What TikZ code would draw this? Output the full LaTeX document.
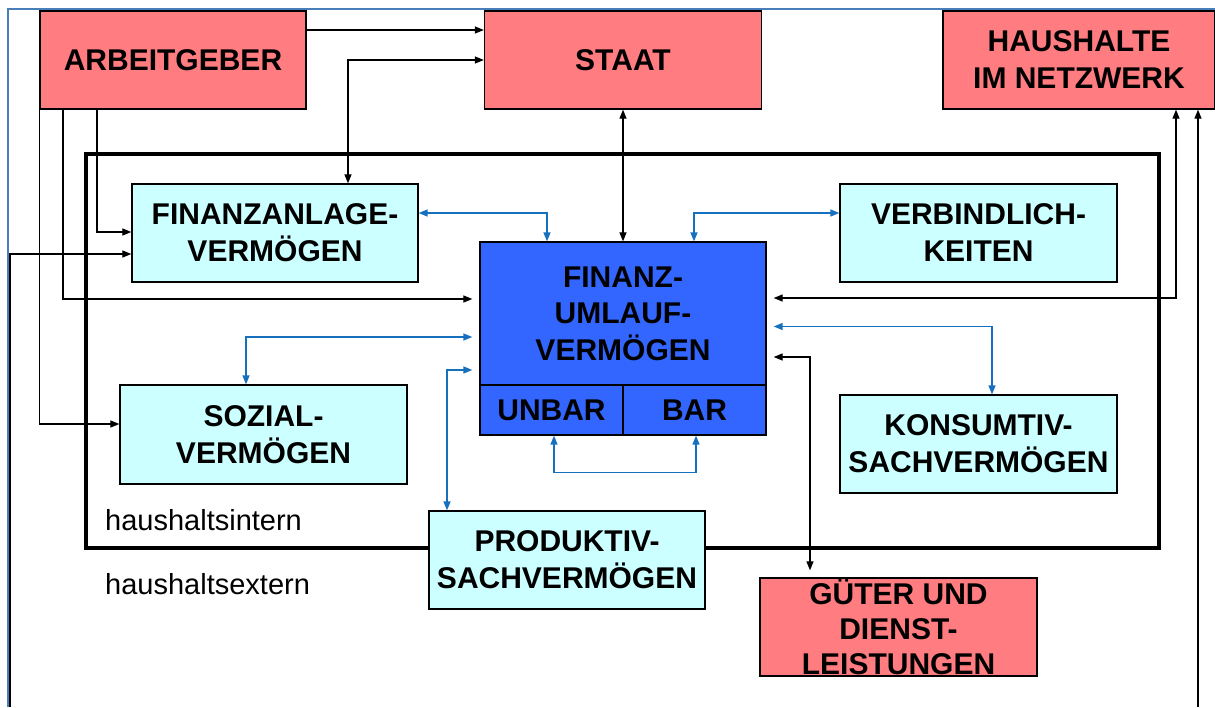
\documentclass[tikz,border=0pt]{standalone}
\usepackage{fontspec}
\setmainfont{Liberation Sans}
\usetikzlibrary{arrows.meta}
\definecolor{boxred}{RGB}{255,124,128}
\definecolor{boxcyan}{RGB}{204,255,255}
\definecolor{boxblue}{RGB}{51,102,255}
\definecolor{linkblue}{RGB}{23,112,190}
\definecolor{framebl}{RGB}{74,126,187}
\begin{document}
\begin{tikzpicture}[x=1pt,y=-1pt,
  >={Triangle[length=9pt,width=7pt]},
  box/.style={draw=black, line width=1.3pt, inner sep=0pt, align=center,
    font=\bfseries\fontsize{30}{37}\selectfont},
  redbox/.style={box, fill=boxred},
  cyanbox/.style={box, fill=boxcyan},
  bluebox/.style={box, fill=boxblue},
  frame/.style={draw=black, line width=4.5pt, inner sep=0pt},
  bk/.style={draw=black, line width=1.2pt},
  bl/.style={draw=linkblue, line width=1.5pt},
  plain/.style={inner sep=0pt, anchor=base west, font=\fontsize{29}{35}\selectfont}
]
\useasboundingbox (0,0) rectangle (1215,707);
% outer blue frame
\draw[framebl, line width=1.8pt] (8,707) -- (8,9) -- (1215,9);
% inner frame
\node[frame, minimum width=1073pt, minimum height=394pt] (intern) at (622.5,351) {};

% external boxes
\node[redbox, minimum width=266pt, minimum height=98pt] (ag) at (173,60) {ARBEITGEBER};
\node[redbox, minimum width=277pt, minimum height=98pt] (staat) at (623,60) {STAAT};
\node[redbox, minimum width=272pt, minimum height=98pt] (hh) at (1079,60) {HAUSHALTE\\IM NETZWERK};
\node[redbox, minimum width=277pt, minimum height=98pt, font=\bfseries\fontsize{30}{35}\selectfont] (gu) at (898.5,627) {GÜTER UND\\DIENST-\\LEISTUNGEN};

% internal boxes
\node[cyanbox, minimum width=286pt, minimum height=98pt] (fa) at (275,233) {FINANZANLAGE-\\VERMÖGEN};
\node[cyanbox, minimum width=277pt, minimum height=98pt] (vb) at (978.5,233) {VERBINDLICH-\\KEITEN};
\node[cyanbox, minimum width=287pt, minimum height=99pt] (soz) at (263.5,434.5) {SOZIAL-\\VERMÖGEN};
\node[cyanbox, minimum width=277pt, minimum height=98pt] (ks) at (978.5,444) {KONSUMTIV-\\SACHVERMÖGEN};
\node[cyanbox, minimum width=276pt, minimum height=98pt] (pr) at (567,560) {PRODUKTIV-\\SACHVERMÖGEN};

\node[bluebox, minimum width=286pt, minimum height=143pt, font=\bfseries\fontsize{30}{36.5}\selectfont] (fuv) at (623,313.5) {FINANZ-\\UMLAUF-\\VERMÖGEN};
\node[bluebox, minimum width=143pt, minimum height=50pt] (unbar) at (551.5,410) {UNBAR};
\node[bluebox, minimum width=143pt, minimum height=50pt] (bar) at (694.5,410) {BAR};

% labels
\node[plain] (hi) at (105,530) {haushaltsintern};
\node[plain] (he) at (105,594) {haushaltsextern};

% free ends
\coordinate (lb) at (10,707);
\coordinate (rb) at (1198,707);

% black connectors
\draw[bk,->] ([yshift=30pt]ag.east) -- ([yshift=30pt]staat.west);
\draw[bk,<->] (staat.west) -| ([xshift=73pt]fa.north);
\draw[bk,->] ([xshift=-76pt]ag.south) |- ([yshift=1pt]fa.west);
\draw[bk,->,shorten >=7pt] ([xshift=-110pt]ag.south) |- ([yshift=14.5pt]fuv.west);
\draw[bk,->] (ag.south west) |- ([yshift=10.5pt]soz.west);
\draw[bk,->] (lb) |- ([yshift=-21pt]fa.west);
\draw[bk,<->] (staat.south) -- (fuv.north);
\draw[bk,<->,shorten >=7pt] ([xshift=97pt]hh.south) |- ([yshift=15.5pt]fuv.east);
\draw[bk,->] (rb) -- (rb |- hh.south);
\draw[bk,<->,shorten <=7pt,shorten >=7pt] ([yshift=-43.5pt]fuv.east) -| ([xshift=-88.5pt]gu.north);

% blue connectors
\draw[bl,<->] ([yshift=20pt]fa.east) -| ([xshift=-76pt]fuv.north);
\draw[bl,<->] ([xshift=71pt]fuv.north) |- ([yshift=20pt]vb.west);
\draw[bl,<->,shorten >=7pt] ([xshift=-17.5pt]soz.north) |- ([yshift=-23.5pt]fuv.west);
\draw[bl,<->,shorten >=7pt] ([xshift=-120pt]pr.north) |- ([yshift=-56.5pt]fuv.west);
\draw[bl,<->,shorten <=7pt] ([yshift=-13pt]fuv.east) -| ([xshift=13.5pt]ks.north);
\draw[bl,<->] ([xshift=2.5pt]unbar.south) -- ++(0,37) -| ([xshift=1.5pt]bar.south);
\end{tikzpicture}
\end{document}
